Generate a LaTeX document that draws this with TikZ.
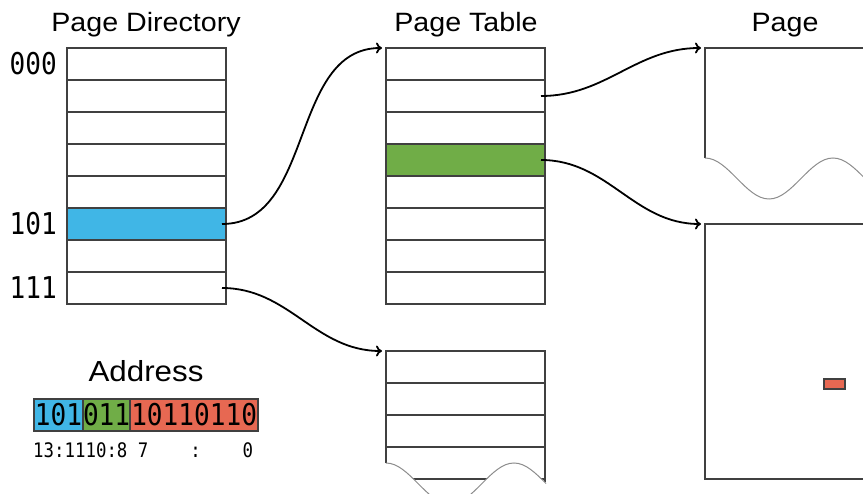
\documentclass[tikz,border=0pt]{standalone}
\usepackage{fontspec}
\setmainfont{Liberation Sans}
\newfontfamily\titlefont[FakeStretch=1.08]{Liberation Sans}
\newfontfamily\monofont[FakeStretch=0.87]{DejaVu Sans Mono}
\usetikzlibrary{positioning,arrows.meta}
\definecolor{dirblue}{RGB}{64,182,230}
\definecolor{tabgreen}{RGB}{112,173,71}
\definecolor{offred}{RGB}{231,104,82}
\newcommand\headfont{\titlefont\fontsize{26.5}{30}\selectfont}
\newcommand\bigmono{\monofont\fontsize{30}{32}\selectfont}
\newcommand\smallmono{\monofont\fontsize{20}{22}\selectfont}

\begin{document}
\begin{tikzpicture}
		[x=1pt,y=-1pt,
		entry/.style ={rectangle, draw=black!75, line width=1.4pt, minimum width=159pt, minimum height=32pt, inner sep=0pt, outer sep=0pt},
		title/.style ={font=\headfont, anchor=base, inner sep=0pt},
		idx/.style ={font=\bigmono, anchor=base east, inner sep=0pt},
		bitbox/.style ={rectangle, draw=black!75, line width=1.4pt, font=\bigmono, minimum height=32pt, inner sep=0pt, outer sep=0pt},
		line/.style ={line width=1.8pt, -{To[length=6pt,width=11pt]}},
		wave/.style ={draw=black!45, line width=1pt},
		frame/.style ={draw=black!75, line width=1.4pt}]
		\useasboundingbox (0,0) rectangle (863,494);
		\clip (0,0) rectangle (863,494);

		% titles
		\node[title] (tdir) at (146,32) {Page Directory};
		\node[title] (ttab) at (466,32) {Page Table};
		\node[title] (tpage) at (785,32) {Page};

		% page directory and page table
		\foreach \i/\c in {0/white,1/white,2/white,3/white,4/white,5/dirblue,6/white,7/white}
			\node[entry, fill=\c] (pd\i) at (146.5,64+32*\i) {};
		\foreach \i/\c in {0/white,1/white,2/white,3/tabgreen,4/white,5/white,6/white,7/white}
			\node[entry, fill=\c] (pt\i) at (465.5,64+32*\i) {};

		\node[idx] (i000) at (57,75) {000};
		\node[idx] (i101) at (57,235) {101};
		\node[idx] (i111) at (57,299) {111};

		% second page table, cut off
		\coordinate (pt2) at (386,351);
		\begin{scope}
			\clip (386,340) -- (386,463) cos (418,483.5) sin (450,504) cos (482,483.5) sin (514,463) cos (546,483.5) -- (546,340) -- cycle;
			\foreach \y in {383,415,447,479}
				\draw[frame] (386,\y) -- (545,\y);
		\end{scope}
		\draw[frame] (386,463) -- (pt2) -- (545,351) -- (545,482);
		\draw[wave] (386,463) cos (418,483.5) sin (450,504) cos (482,483.5) sin (514,463) cos (546,483.5);

		% pages
		\coordinate (page1) at (705,48);
		\coordinate (page2) at (705,224);
		\draw[frame] (705,158) -- (page1) -- (880,48);
		\draw[wave] (705,158) cos (737,178.5) sin (769,199) cos (801,178.5) sin (833,158) cos (865,178.5);
		\draw[frame] (page2) rectangle (880,479);
		\node[rectangle, draw=black!75, line width=1.2pt, fill=offred, minimum width=21pt, minimum height=10pt, inner sep=0pt] (byte) at (834.5,384) {};

		% address
		\node[title] (taddr) at (146,382) {\fontsize{29}{32}\selectfont Address};
		\node[bitbox, fill=dirblue, minimum width=49pt] (adir) at (58.5,415) {101};
		\node[bitbox, fill=tabgreen, minimum width=47pt, right=0pt of adir] (atab) {011};
		\node[bitbox, fill=offred, minimum width=128pt, right=0pt of atab] (aoff) {10110110};
		\node[font=\smallmono, anchor=base west, inner sep=0pt] (ranges) at (33,457) {13:1110:8\ 7\ \ \ \ :\ \ \ \ 0};

		\path[line]
		([xshift=-4pt]pd5.east) edge[out=0,in=180] ([xshift=-4pt]pt0.north west)
		([xshift=-4pt]pd7.east) edge[out=0,in=180] ([xshift=-4pt]pt2)
		([xshift=-4pt]pt1.east) edge[out=0,in=180] ([xshift=-4pt]page1)
		([xshift=-4pt]pt3.east) edge[out=0,in=180] ([xshift=-4pt]page2);

	\end{tikzpicture}
\end{document}
